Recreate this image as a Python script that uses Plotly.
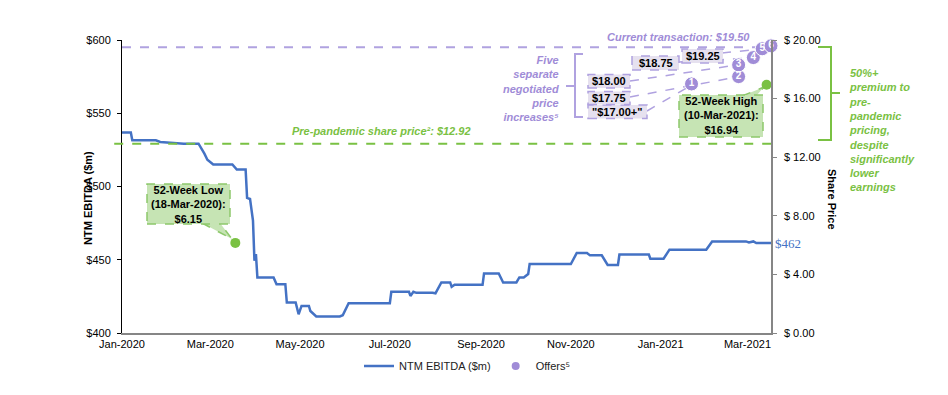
import plotly.graph_objects as go

# ---------------- data ----------------
dates = ["2020-01-01", "2020-01-07", "2020-01-08", "2020-01-24", "2020-01-27", "2020-02-05",
         "2020-02-12", "2020-02-22", "2020-02-24", "2020-02-26", "2020-02-28", "2020-03-03",
         "2020-03-16", "2020-03-19", "2020-03-25", "2020-03-26", "2020-03-28", "2020-03-30",
         "2020-03-31", "2020-04-01", "2020-04-02", "2020-04-13", "2020-04-15", "2020-04-21",
         "2020-04-22", "2020-04-28", "2020-04-30", "2020-05-02", "2020-05-07", "2020-05-08",
         "2020-05-12", "2020-05-28", "2020-05-30", "2020-06-03", "2020-07-01", "2020-07-02",
         "2020-07-14", "2020-07-15", "2020-07-17", "2020-07-19", "2020-07-30", "2020-08-01",
         "2020-08-05", "2020-08-11", "2020-08-12", "2020-08-14", "2020-09-02", "2020-09-03",
         "2020-09-13", "2020-09-16", "2020-09-25", "2020-09-27", "2020-09-30", "2020-10-03",
         "2020-10-04", "2020-11-01", "2020-11-05", "2020-11-12", "2020-11-14", "2020-11-22",
         "2020-11-26", "2020-12-03", "2020-12-04", "2020-12-24", "2020-12-25", "2021-01-03",
         "2021-01-07", "2021-02-01", "2021-02-05", "2021-02-28", "2021-03-02", "2021-03-05",
         "2021-03-07", "2021-03-17"]
ntm_ebitda = [536.8, 536.8, 531.5, 531.5, 530.4, 529.7, 529.2, 529.2, 526.0, 522.4, 518.3, 515.0,
              515.0, 511.6, 511.6, 492.2, 491.5, 476.7, 449.3, 453.9, 437.9, 437.9, 433.3, 433.3,
              420.8, 420.8, 412.8, 418.5, 418.5, 415.0, 411.3, 411.3, 412.1, 420.3, 420.3, 428.1,
              428.1, 425.3, 428.1, 427.4, 427.4, 427.1, 434.5, 434.5, 431.5, 432.9, 432.9, 440.6,
              440.6, 434.5, 434.5, 437.9, 437.9, 440.2, 447.1, 447.1, 454.6, 454.6, 453.0, 453.0,
              446.4, 446.4, 453.6, 453.6, 450.7, 450.7, 456.9, 456.9, 462.5, 462.5, 461.8, 462.5,
              461.4, 461.4]

offer_dates = ["2021-01-22", "2021-02-23", "2021-02-23", "2021-03-05", "2021-03-11", "2021-03-17"]
offer_prices = [17.0, 17.5, 18.3, 18.8, 19.4, 19.6]
offer_numbers = ["1", "2", "3", "4", "5", "6"]
offer_box_labels = ['"$17.00+"', "$17.75", "$18.00", "$18.75", "$19.25"]

low_date, low_price = "2020-03-18", 6.15
high_date, high_price = "2021-03-14", 16.94
current_transaction = 19.50
pre_pandemic_price = 12.92
ebitda_end_label = "$462"

x_tick_vals = ["2020-01-01", "2020-03-01", "2020-05-01", "2020-07-01", "2020-09-01",
               "2020-11-01", "2021-01-01", "2021-03-01"]
x_tick_text = ["Jan-2020", "Mar-2020", "May-2020", "Jul-2020", "Sep-2020", "Nov-2020",
               "Jan-2021", "Mar-2021"]
left_ticks = [400, 450, 500, 550, 600]
left_tick_text = ["$400", "$450", "$500", "$550", "$600"]
right_ticks = [0, 4, 8, 12, 16, 20]
right_tick_text = ["$ 0.00", "$ 4.00", "$ 8.00", "$ 12.00", "$ 16.00", "$ 20.00"]

# ---------------- style ----------------
BLUE = "#4472C4"
GREEN = "#7AC143"
GREEN_FILL = "#C6E4B4"
GREEN_BORDER = "#8DC86B"
PURPLE = "#A08CD7"
PURPLE_LINE = "#B0A2E0"
PURPLE_FILL = "#E6E1EF"
FONT = "Arial, Liberation Sans, sans-serif"

# page body has an 8px default margin; figure is sized to fit the 948x395 window
PAGE_OFF = 8
W, H = 948 - PAGE_OFF, 395 - PAGE_OFF
L, R, T, B = 122, 771, 40, 333   # plot area in window pixels


def px(x):
    return (x - L) / (R - L)


def py(y):
    return (B - y) / (B - T)


fig = go.Figure()

fig.add_trace(go.Scatter(
    x=dates, y=ntm_ebitda, mode="lines", name="NTM EBITDA ($m)",
    line=dict(color=BLUE, width=2.5), yaxis="y", hoverinfo="skip"))

# offers (plotted on share price axis)
fig.add_trace(go.Scatter(
    x=offer_dates, y=offer_prices, yaxis="y2", mode="markers+text",
    text=offer_numbers, textposition="middle center",
    textfont=dict(color="white", size=10, family=FONT, weight="bold"),
    marker=dict(size=14, color=PURPLE, line=dict(color="white", width=1)),
    showlegend=False, cliponaxis=False, hoverinfo="skip"))
fig.add_trace(go.Scatter(
    x=[None], y=[None], yaxis="y2", mode="markers", name="Offers⁵",
    marker=dict(size=8, color=PURPLE)))

# 52-week low / high
fig.add_trace(go.Scatter(
    x=[low_date, high_date], y=[low_price, high_price], yaxis="y2", mode="markers",
    marker=dict(size=10, color=GREEN), showlegend=False, cliponaxis=False,
    hoverinfo="skip"))

shapes = []
annotations = []

# reference lines
shapes.append(dict(type="line", xref="paper", yref="y2", x0=0, x1=1,
                   y0=current_transaction, y1=current_transaction, layer="below",
                   line=dict(color=PURPLE_LINE, width=2, dash="dash")))
shapes.append(dict(type="line", xref="paper", yref="y2", x0=-0.012, x1=1,
                   y0=pre_pandemic_price, y1=pre_pandemic_price, layer="above",
                   line=dict(color=GREEN, width=2, dash="dash")))


def path(points):
    s = ""
    for i, (x, y) in enumerate(points):
        s += ("M" if i == 0 else "L") + f"{px(x):.5f},{py(y):.5f} "
    return s


# leader lines (box -> offer circle)
leaders = [((647, 111), (690, 86)), ((630, 97), (737, 77)), ((630, 81), (737, 65)),
           ((679, 62), (752, 58)), ((722, 53), (761, 49))]
for (a, b) in leaders:
    shapes.append(dict(type="line", xref="paper", yref="paper",
                       x0=px(a[0]), y0=py(a[1]), x1=px(b[0]), y1=py(b[1]), layer="below",
                       line=dict(color=PURPLE_LINE, width=1.5, dash="dash")))

# purple boxes
boxes = [(588, 105, 647, 118.5), (588, 91.5, 630, 104.5), (588, 74.5, 630, 88),
         (632, 56, 679, 70), (682, 49, 723, 63)]
for (x0, y0, x1, y1), lab in zip(boxes, offer_box_labels):
    shapes.append(dict(type="rect", xref="paper", yref="paper",
                       x0=px(x0), x1=px(x1), y0=py(y1), y1=py(y0), layer="below",
                       fillcolor=PURPLE_FILL, line=dict(color=PURPLE_LINE, width=1.5, dash="dash")))
    annotations.append(dict(xref="paper", yref="paper", x=px((x0 + x1) / 2), y=py((y0 + y1) / 2),
                            text=f"<b>{lab}</b>", showarrow=False,
                            font=dict(family=FONT, size=11, color="#000000"),
                            xanchor="center", yanchor="middle"))

# purple brace
shapes.append(dict(type="path", xref="paper", yref="paper", layer="above",
                   path=path([(583, 54), (575, 54), (575, 117), (583, 117)]) +
                   path([(575, 86), (566, 86)]),
                   line=dict(color=PURPLE_LINE, width=2)))
# green brace
shapes.append(dict(type="path", xref="paper", yref="paper", layer="above",
                   path=path([(818, 47), (831, 47), (831, 140), (818, 140)]) +
                   path([(831, 93), (840, 93)]),
                   line=dict(color=GREEN, width=2)))

# 52-week low callout
shapes.append(dict(type="path", xref="paper", yref="paper", layer="below",
                   path=path([(202, 223), (232, 239), (220, 223)]) + "Z",
                   fillcolor=GREEN_FILL, line=dict(color=GREEN_BORDER, width=1.5, dash="dash")))
shapes.append(dict(type="rect", xref="paper", yref="paper", layer="below",
                   x0=px(147), x1=px(230), y0=py(224), y1=py(184),
                   fillcolor=GREEN_FILL, line=dict(color=GREEN_BORDER, width=1.5, dash="dash")))
annotations.append(dict(xref="paper", yref="paper", x=px(188.5), y=py(204),
                        text="<b>52-Week Low<br>(18-Mar-2020):<br>$6.15</b>", showarrow=False,
                        font=dict(family=FONT, size=11, color="#000000"),
                        xanchor="center", yanchor="middle"))

# 52-week high callout
shapes.append(dict(type="path", xref="paper", yref="paper", layer="below",
                   path=path([(742, 96), (764, 87), (756, 96)]) + "Z",
                   fillcolor=GREEN_FILL, line=dict(color=GREEN_BORDER, width=1.5, dash="dash")))
shapes.append(dict(type="rect", xref="paper", yref="paper", layer="below",
                   x0=px(679), x1=px(763), y0=py(137), y1=py(95),
                   fillcolor=GREEN_FILL, line=dict(color=GREEN_BORDER, width=1.5, dash="dash")))
annotations.append(dict(xref="paper", yref="paper", x=px(721), y=py(116),
                        text="<b>52-Week High<br>(10-Mar-2021):<br>$16.94</b>", showarrow=False,
                        font=dict(family=FONT, size=11, color="#000000"),
                        xanchor="center", yanchor="middle"))

# texts
annotations.append(dict(xref="paper", yref="paper", x=px(678), y=py(37),
                        text="<b><i>Current transaction: $19.50</i></b>", showarrow=False,
                        font=dict(family=FONT, size=11, color=PURPLE),
                        xanchor="center", yanchor="middle"))
annotations.append(dict(xref="paper", yref="paper", x=px(381), y=py(131),
                        text="<b><i>Pre-pandemic share price²: $12.92</i></b>", showarrow=False,
                        font=dict(family=FONT, size=11, color=GREEN),
                        xanchor="center", yanchor="middle"))
annotations.append(dict(xref="paper", yref="paper", x=px(561), y=py(52),
                        text="<b><i>Five<br>separate<br>negotiated<br>price<br>increases⁵</i></b>",
                        showarrow=False, align="right",
                        font=dict(family=FONT, size=11, color=PURPLE),
                        xanchor="right", yanchor="top"))
annotations.append(dict(xref="paper", yref="paper", x=px(847), y=py(65),
                        text="<b><i>50%+<br>premium to<br>pre-<br>pandemic<br>pricing,<br>despite"
                             "<br>significantly<br>lower<br>earnings</i></b>",
                        showarrow=False, align="left",
                        font=dict(family=FONT, size=11, color=GREEN),
                        xanchor="left", yanchor="top"))
annotations.append(dict(x=dates[-1], y=ntm_ebitda[-1], xref="x", yref="y",
                        text=ebitda_end_label, showarrow=False, xanchor="left",
                        yanchor="middle", xshift=2,
                        font=dict(family="Liberation Serif, Times New Roman, serif", size=13,
                                  color=BLUE)))
# axis titles
annotations.append(dict(xref="paper", yref="paper", x=px(88), y=py(198),
                        text="<b>NTM EBITDA ($m)</b>", showarrow=False, textangle=-90,
                        font=dict(family=FONT, size=11, color="#000000"),
                        xanchor="center", yanchor="middle"))
annotations.append(dict(xref="paper", yref="paper", x=px(832), y=py(199),
                        text="<b>Share Price</b>", showarrow=False, textangle=90,
                        font=dict(family=FONT, size=11, color="#000000"),
                        xanchor="center", yanchor="middle"))

fig.update_layout(
    width=W, height=H, autosize=False,
    margin=dict(l=L - PAGE_OFF, r=(PAGE_OFF + W) - R, t=T - PAGE_OFF, b=(PAGE_OFF + H) - B, pad=0),
    paper_bgcolor="white", plot_bgcolor="rgba(0,0,0,0)",
    font=dict(family=FONT, size=11, color="#000000"),
    showlegend=True,
    legend=dict(orientation="h", x=px(467), xanchor="center", y=py(366), yanchor="middle",
                font=dict(size=11, family=FONT, color="#222222"), bgcolor="rgba(0,0,0,0)",
                itemwidth=30),
    xaxis=dict(type="date", range=["2020-01-01", "2021-03-17"], tickvals=x_tick_vals,
               ticktext=x_tick_text, showgrid=False, zeroline=False, showline=True,
               linecolor="#868686", linewidth=2, ticks="", tickfont=dict(size=11)),
    yaxis=dict(range=[400, 600], tickvals=left_ticks, ticktext=left_tick_text,
               showgrid=False, zeroline=False, showline=True, linecolor="#000000",
               linewidth=1, ticks="outside", ticklen=4, tickcolor="#000000",
               tickfont=dict(size=11), ticklabelstandoff=4),
    yaxis2=dict(range=[0, 20], overlaying="y", side="right", tickvals=right_ticks,
                ticktext=right_tick_text, showgrid=False, zeroline=False, showline=True,
                linecolor="#868686", linewidth=1.5, ticks="outside", ticklen=4,
                tickcolor="#868686", tickfont=dict(size=11), ticklabelstandoff=5),
    shapes=shapes, annotations=annotations,
)

fig.write_html("out.html")
